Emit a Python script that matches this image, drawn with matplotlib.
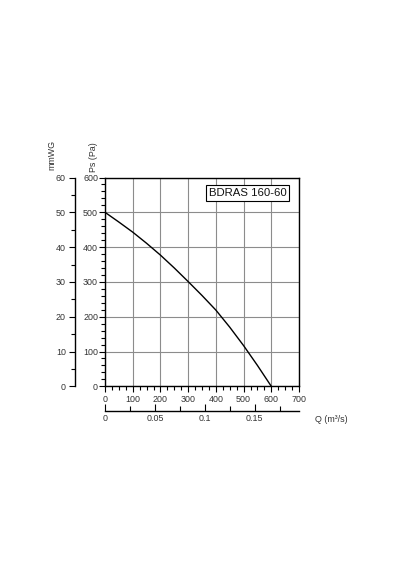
import numpy as np
import matplotlib.pyplot as plt
from matplotlib.ticker import MultipleLocator

plt.rcParams['font.family'] = ['Liberation Sans', 'DejaVu Sans']

# fan curve: flow in m3/h, static pressure in Pa
flow = [0, 50, 100, 150, 200, 250, 300, 350, 400, 450, 500, 550, 600]
pressure = [500, 472, 443, 411, 377, 340, 301, 261, 219, 170, 117, 60, 0]
model_name = 'BDRAS 160-60'
txt_col = '#333333'
fs = 6.4

fig = plt.figure(figsize=(4, 5.7), dpi=100)
W, H = 400, 570

def box(x0, y0, x1, y1):
    # pixel box -> figure fraction
    return [x0 / W, 1 - y1 / H, (x1 - x0) / W, (y1 - y0) / H]

ax = fig.add_axes(box(105, 177.5, 299, 386.3))
ax.plot(flow, pressure, color='black', lw=1.0)
ax.set_xlim(0, 700)
ax.set_ylim(0, 600)
ax.xaxis.set_major_locator(MultipleLocator(100))
ax.xaxis.set_minor_locator(MultipleLocator(25))
ax.yaxis.set_major_locator(MultipleLocator(100))
ax.yaxis.set_minor_locator(MultipleLocator(20))
ax.grid(True, which='major', color='#8c8c8c', lw=0.8)
ax.tick_params(which='major', direction='out', length=4.5, width=0.8, labelsize=fs, labelcolor=txt_col)
ax.tick_params(axis='y', which='major', pad=0.5)
ax.tick_params(axis='x', which='major', pad=1.5)
ax.tick_params(which='minor', direction='out', length=3, width=0.8)
for s in ax.spines.values():
    s.set_linewidth(1.0)
ax.text(0.735, 0.925, model_name, transform=ax.transAxes, ha='center', va='center',
        fontsize=8.2, color='#111111',
        bbox=dict(boxstyle='square,pad=0.25', fc='white', ec='black', lw=0.8))

# mmWG scale on the far left
ax2 = fig.add_axes(box(75, 177.5, 76, 386.3))
ax2.set_ylim(0, 60)
ax2.set_xticks([])
for k in ['top', 'right', 'bottom']:
    ax2.spines[k].set_visible(False)
ax2.spines['left'].set_linewidth(1.0)
ax2.yaxis.set_major_locator(MultipleLocator(10))
ax2.yaxis.set_minor_locator(MultipleLocator(5))
ax2.tick_params(which='major', direction='out', length=4.5, width=0.8, labelsize=fs,
                labelcolor=txt_col, pad=2)
ax2.tick_params(which='minor', direction='out', length=3, width=0.8)
ax2.patch.set_visible(False)

# Q scale in m3/s below
ax3 = fig.add_axes(box(105, 410, 299, 411))
ax3.set_xlim(0, 700 / 3600)
ax3.set_yticks([])
for k in ['top', 'right', 'left']:
    ax3.spines[k].set_visible(False)
ax3.spines['bottom'].set_linewidth(1.0)
ax3.set_xticks([0, 0.05, 0.1, 0.15])
ax3.set_xticklabels(['0', '0.05', '0.1', '0.15'])
ax3.xaxis.set_minor_locator(MultipleLocator(0.025))
ax3.tick_params(which='major', direction='in', length=5, width=0.8, labelsize=fs,
                labelcolor=txt_col, pad=2)
ax3.tick_params(which='minor', direction='in', length=3.5, width=0.8)
ax3.patch.set_visible(False)

fig.text(52 / W, 1 - 155 / H, 'mmWG', rotation=90, ha='center', va='center', fontsize=fs, color=txt_col)
fig.text(93 / W, 1 - 157 / H, 'Ps (Pa)', rotation=90, ha='center', va='center', fontsize=fs, color=txt_col)
fig.text(331 / W, 1 - 420 / H, 'Q (m³/s)', ha='center', va='center', fontsize=fs, color=txt_col)

fig.savefig('out.png', dpi=100)
